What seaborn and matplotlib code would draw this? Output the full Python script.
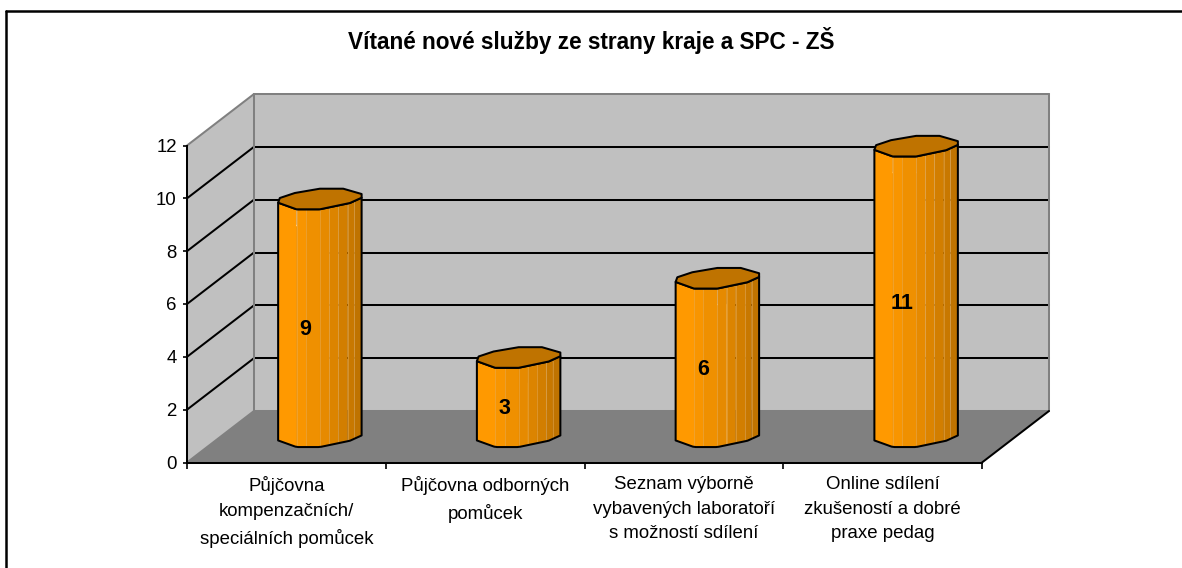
import numpy as np
import matplotlib
matplotlib.use("Agg")
import matplotlib.pyplot as plt
import seaborn as sns
from matplotlib.lines import Line2D
from matplotlib.patches import Polygon
from matplotlib.transforms import IdentityTransform

categories = [
    "Půjčovna\nkompenzačních/\nspeciálních pomůcek",
    "Půjčovna odborných\npomůcek",
    "Seznam výborně\nvybavených laboratoří\ns možností sdílení",
    "Online sdílení\nzkušeností a dobré\npraxe pedag",
]
values = [9, 3, 6, 11]
y_ticks = [0, 2, 4, 6, 8, 10, 12]
title = "Vítané nové služby ze strany kraje a SPC - ZŠ"

W, H = 1182, 568
depth = np.array([67.0, 51.5])  # back wall offset in pixels

sns.set_theme(style="ticks")
plt.rcParams["font.family"] = ["Liberation Sans", "DejaVu Sans"]

fig = plt.figure(figsize=(W / 100, H / 100), dpi=100, facecolor="white")
ax = fig.add_axes([187 / W, (H - 462.5) / H, 795 / W, 317 / H])
ax.patch.set_visible(False)

sns.barplot(x=list(range(4)), y=values, color="#ff9900", width=0.42, ax=ax, zorder=3)
ax.set_xlim(-0.5, 3.5)
ax.set_ylim(0, 12)
fig.canvas.draw()


def px(x, y, d=0.0):
    return ax.transData.transform((x, y)) + d * depth


def add_poly(pts, **kw):
    p = Polygon(pts, closed=True, transform=IdentityTransform(), clip_on=False, **kw)
    ax.add_patch(p)
    return p


def add_line(a, b, color="black", lw=1.45, z=1, alpha=None):
    ax.add_line(Line2D([a[0], b[0]], [a[1], b[1]], color=color, lw=lw, zorder=z, alpha=alpha,
                       transform=IdentityTransform(), clip_on=False))


# walls and floor
add_poly([px(-0.5, 0, 1), px(3.5, 0, 1), px(3.5, 12, 1), px(-0.5, 12, 1)], fc="#c0c0c0", ec="none", zorder=0)
add_poly([px(-0.5, 0), px(-0.5, 0, 1), px(-0.5, 12, 1), px(-0.5, 12)], fc="#c0c0c0", ec="none", zorder=0)
add_poly([px(-0.5, 0), px(3.5, 0), px(3.5, 0, 1), px(-0.5, 0, 1)], fc="#808080", ec="none", zorder=0)
for v in y_ticks[1:-1]:
    add_line(px(-0.5, v), px(-0.5, v, 1))
    add_line(px(-0.5, v, 1), px(3.5, v, 1))
gray = "#808080"
add_line(px(-0.5, 12), px(-0.5, 12, 1), gray)
add_line(px(-0.5, 12, 1), px(3.5, 12, 1), gray)
add_line(px(-0.5, 0, 1), px(-0.5, 12, 1), gray)
add_line(px(3.5, 0, 1), px(3.5, 12, 1), gray)
add_line(px(-0.5, 0), px(-0.5, 0, 1), gray)
add_line(px(-0.5, 0, 1), px(3.5, 0, 1), gray)
add_line(px(3.5, 0), px(3.5, 0, 1), "black")

# cylinder facets, cross section as fractions of the bar half width
edges = np.array([-1, -0.56, -0.336, 0, 0.223, 0.44, 0.664, 0.822, 1])
shades = ["#ff9900", "#f89500", "#ef9000", "#e68a00", "#dc8400", "#d27e00", "#c87800", "#bf7300"]
front_x = np.array([-1, -0.56, 0, 0.72, 1])
front_y = np.array([-3.7, -10.3, -10.3, -4, 1.3])
cap = np.array([[-1, -3.7], [-0.56, -10.3], [0, -10.3], [0.72, -4], [1, 1.3], [1, 5],
                [0.56, 10.3], [0, 10.3], [-0.6, 6], [-0.96, 1]])

for bar, v in zip(ax.patches, values):
    cx = bar.get_x() + bar.get_width() / 2
    top = px(cx, v, 0.5)
    base = px(cx, 0, 0.5)
    half = (px(bar.get_x() + bar.get_width(), 0)[0] - px(bar.get_x(), 0)[0]) / 2
    outline = []
    xs = np.linspace(-1, 1, 30)
    outline += [(top[0] + half * s, top[1] + np.interp(s, front_x, front_y)) for s in xs]
    outline += [(base[0] + half * s, base[1] + np.interp(s, front_x, front_y)) for s in xs[::-1]]
    for i in range(8):
        s0, s1 = edges[i], edges[i + 1]
        pts = [(top[0] + half * s, top[1] + np.interp(s, front_x, front_y)) for s in (s0, s1)]
        pts += [(base[0] + half * s, base[1] + np.interp(s, front_x, front_y)) for s in (s1, s0)]
        add_poly(pts, fc=shades[i], ec="none", zorder=4)
        if i > 0:
            add_line(pts[0], pts[3], "#e8b060", 0.6, 4.5, alpha=0.55)
    bar.set_clip_path(add_poly(outline, fc="none", ec="black", lw=1.45, zorder=5, joinstyle="round"))
    add_poly(np.array([top[0], top[1]]) + cap * [half, 1], fc="#bf7300", ec="black", lw=1.45, zorder=6,
             joinstyle="round")
    ax.annotate(str(v), (cx, v / 2), xytext=(19, 14), textcoords="offset pixels", ha="center", va="center",
                fontsize=15.5, fontweight="bold", color="black", zorder=7)

# axes
for name in ["top", "right"]:
    ax.spines[name].set_visible(False)
for name in ["left", "bottom"]:
    ax.spines[name].set_linewidth(1.45)
    ax.spines[name].set_color("black")
    ax.spines[name].set_zorder(2)
ax.set_yticks(y_ticks)
ax.set_xticks(np.arange(-0.5, 4, 1))
ax.set_xticklabels([])
ax.set_xticks(range(4), categories, minor=True)
ax.tick_params(axis="y", length=3, width=1.2, color="black", labelsize=13.4, labelcolor="black", pad=4.3)
ax.tick_params(axis="x", which="major", length=4, width=1.2, color="black")
ax.tick_params(axis="x", which="minor", length=0, labelsize=13.4, labelcolor="black", pad=10)
for lab in ax.get_xticklabels(minor=True):
    lab.set_linespacing(1.58)
ax.set_xlabel("")
ax.set_ylabel("")

fig.text(591.5 / W, (H - 40) / H, title, ha="center", va="center", fontsize=16.3, fontweight="bold", color="black")

# chart border runs off the right and bottom of the image
fig.add_artist(Line2D([6 / W, 6 / W], [0, (H - 11) / H], color="black", lw=1.8))
fig.add_artist(Line2D([6 / W, 1], [(H - 11) / H, (H - 11) / H], color="black", lw=1.8))

fig.savefig("out.png", dpi=100)
